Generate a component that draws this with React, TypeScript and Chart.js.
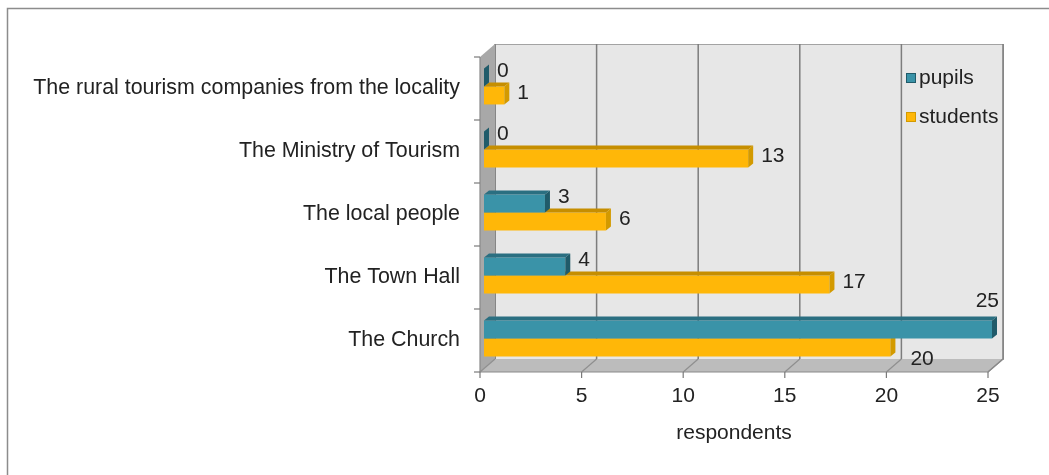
import React, { useEffect, useRef } from "react";
import { Chart, registerables } from "chart.js";

Chart.register(...registerables);

const categories = [
  "The rural tourism companies from the locality",
  "The Ministry of Tourism",
  "The local people",
  "The Town Hall",
  "The Church",
];
const pupils = [0, 0, 3, 4, 25];
const students = [1, 13, 6, 17, 20];
const seriesNames = ["pupils", "students"];
const xTicks = [0, 5, 10, 15, 20, 25];
const axisTitle = "respondents";

const W = 1049;
const H = 475;
const WALL_DX = 15;
const WALL_DY = 13;
const BAR_DX = 5;
const BAR_DY = 4;
const SHIFT_X = 4;
const SHIFT_Y = -2;
const FONT = "'Liberation Sans', Arial, Helvetica, sans-serif";
const TEXT = "#222222";

const palette = [
  { front: "#3a93a8", top: "#2a6f81", side: "#205b6a" },
  { front: "#ffb708", top: "#c68e00", side: "#d39a00" },
];

function poly(ctx: CanvasRenderingContext2D, pts: number[][], fill: string) {
  ctx.beginPath();
  ctx.moveTo(pts[0][0], pts[0][1]);
  for (let i = 1; i < pts.length; i++) ctx.lineTo(pts[i][0], pts[i][1]);
  ctx.closePath();
  ctx.fillStyle = fill;
  ctx.fill();
}

const scenePlugin = {
  id: "scene3d",
  beforeDraw(chart: any) {
    const { ctx, chartArea: a } = chart;
    const xs = chart.scales.x;
    const L = a.left, R = a.right, T = a.top, B = a.bottom;
    ctx.save();
    ctx.fillStyle = "#ffffff";
    ctx.fillRect(0, 0, W, H);
    // outer frame
    ctx.strokeStyle = "#8c8c8c";
    ctx.lineWidth = 1.5;
    ctx.beginPath();
    ctx.moveTo(7.5, H);
    ctx.lineTo(7.5, 8.5);
    ctx.lineTo(W, 8.5);
    ctx.stroke();
    // back wall
    ctx.fillStyle = "#e7e7e7";
    ctx.fillRect(L + WALL_DX, T - WALL_DY, R - L, B - T);
    ctx.strokeStyle = "#a3a3a3";
    ctx.lineWidth = 1;
    ctx.strokeRect(L + WALL_DX + 0.5, T - WALL_DY + 0.5, R - L, B - T);
    // back wall grid lines
    ctx.strokeStyle = "#7d7d7d";
    ctx.lineWidth = 1.5;
    for (const v of xTicks) {
      const x = xs.getPixelForValue(v) + WALL_DX;
      ctx.beginPath();
      ctx.moveTo(x, T - WALL_DY);
      ctx.lineTo(x, B - WALL_DY);
      ctx.stroke();
    }
    // left wall
    poly(ctx, [[L, T], [L + WALL_DX, T - WALL_DY], [L + WALL_DX, B - WALL_DY], [L, B]], "#a8a8a8");
    // floor
    poly(ctx, [[L, B], [R, B], [R + WALL_DX, B - WALL_DY], [L + WALL_DX, B - WALL_DY]], "#bcbcbc");
    ctx.strokeStyle = "#8f8f8f";
    ctx.lineWidth = 1.2;
    for (const v of xTicks) {
      const x = xs.getPixelForValue(v);
      ctx.beginPath();
      ctx.moveTo(x, B);
      ctx.lineTo(x + WALL_DX, B - WALL_DY);
      ctx.stroke();
    }
    // front edges
    ctx.strokeStyle = "#8a8a8a";
    ctx.lineWidth = 1.2;
    ctx.beginPath();
    ctx.moveTo(L, T);
    ctx.lineTo(L, B);
    ctx.lineTo(R, B);
    ctx.lineTo(R + WALL_DX, B - WALL_DY);
    ctx.stroke();
    // x tick marks
    ctx.strokeStyle = "#7a7a7a";
    for (const v of xTicks) {
      const x = xs.getPixelForValue(v);
      ctx.beginPath();
      ctx.moveTo(x, B);
      ctx.lineTo(x, B + 6);
      ctx.stroke();
    }
    // y tick marks at category boundaries
    const n = categories.length;
    for (let i = 0; i <= n; i++) {
      const y = T + ((B - T) * i) / n;
      ctx.beginPath();
      ctx.moveTo(L - 6, y);
      ctx.lineTo(L, y);
      ctx.stroke();
    }
    ctx.restore();
  },
  beforeDatasetDraw(chart: any) {
    chart.ctx.save();
    chart.ctx.translate(SHIFT_X, SHIFT_Y);
  },
  afterDatasetDraw(chart: any, args: any) {
    const ctx = chart.ctx;
    const c = palette[args.index];
    for (const el of args.meta.data) {
      const { x, y, base, height } = el.getProps(["x", "y", "base", "height"], true);
      const t = y - height / 2;
      const b = y + height / 2;
      poly(ctx, [[base, t], [x, t], [x + BAR_DX, t - BAR_DY], [base + BAR_DX, t - BAR_DY]], c.top);
      poly(ctx, [[x, t], [x + BAR_DX, t - BAR_DY], [x + BAR_DX, b - BAR_DY], [x, b]], c.side);
    }
    ctx.restore();
  },
  afterDatasetsDraw(chart: any) {
    const ctx = chart.ctx;
    const a = chart.chartArea;
    ctx.save();
    ctx.font = `21px ${FONT}`;
    ctx.fillStyle = TEXT;
    ctx.textBaseline = "middle";
    chart.data.datasets.forEach((ds: any, di: number) => {
      const meta = chart.getDatasetMeta(di);
      meta.data.forEach((el: any, j: number) => {
        const { x, y, height } = el.getProps(["x", "y", "height"], true);
        const ex = x + SHIFT_X;
        const cy = y + SHIFT_Y;
        const txt = String(ds.data[j]);
        const tw = ctx.measureText(txt).width;
        let lx = ex + BAR_DX + 8;
        let ly = di === 0 ? cy - 6 : cy - 2;
        ctx.textAlign = "left";
        if (lx + tw > a.right + WALL_DX) {
          ctx.textAlign = "right";
          lx = ex + BAR_DX + 2;
          ly = cy - height / 2 - BAR_DY - 15;
        } else {
          const otherIdx = di === 0 ? 1 : 0;
          const other = chart.getDatasetMeta(otherIdx).data[j];
          if (di === 1 && other && other.x + SHIFT_X + BAR_DX > lx) {
            lx += 7;
            ly = cy + 12;
          }
        }
        ctx.fillText(txt, lx, ly);
      });
    });
    ctx.restore();
  },
  afterDraw(chart: any) {
    const ctx = chart.ctx;
    ctx.save();
    ctx.font = `21px ${FONT}`;
    ctx.textBaseline = "middle";
    ctx.textAlign = "left";
    const x0 = 906;
    const ys = [78, 117];
    chart.data.datasets.forEach((ds: any, i: number) => {
      const y = ys[i];
      ctx.fillStyle = palette[i].front;
      ctx.fillRect(x0, y - 5, 10, 10);
      ctx.strokeStyle = palette[i].side;
      ctx.lineWidth = 1;
      ctx.strokeRect(x0 + 0.5, y - 4.5, 9, 9);
      ctx.fillStyle = TEXT;
      ctx.fillText(ds.label, x0 + 13, y);
    });
    ctx.restore();
  },
};

export default function App() {
  const ref = useRef<HTMLCanvasElement | null>(null);
  useEffect(() => {
    if (!ref.current) return;
    const chart = new Chart(ref.current, {
      type: "bar",
      data: {
        labels: categories,
        datasets: [
          { label: seriesNames[0], data: pupils, backgroundColor: palette[0].front, borderWidth: 0, clip: false as any },
          { label: seriesNames[1], data: students, backgroundColor: palette[1].front, borderWidth: 0, clip: false as any },
        ],
      },
      options: {
        indexAxis: "y",
        responsive: false,
        animation: false,
        events: [],
        layout: { padding: { top: 57, right: 61, left: 0, bottom: 0 } },
        datasets: { bar: { categoryPercentage: 0.57, barPercentage: 1 } },
        plugins: { legend: { display: false }, tooltip: { enabled: false } },
        scales: {
          x: {
            type: "linear",
            min: 0,
            max: 25,
            grid: { display: false, drawTicks: false },
            border: { display: false },
            ticks: { stepSize: 5, padding: 12, color: TEXT, font: { family: FONT, size: 21 } },
            title: { display: true, text: axisTitle, color: TEXT, font: { family: FONT, size: 21 }, padding: { top: 0, bottom: 29 } },
            afterFit: (s: any) => { s.height = 103; },
          },
          y: {
            type: "category",
            grid: { display: false, drawTicks: false },
            border: { display: false },
            ticks: { padding: 20, color: TEXT, font: { family: FONT, size: 21.4 } },
            afterFit: (s: any) => { s.width = 480; },
          },
        },
      } as any,
      plugins: [scenePlugin],
    });
    return () => chart.destroy();
  }, []);
  return (
    <canvas
      ref={ref}
      width={W}
      height={H}
      style={{ position: "fixed", left: 0, top: 0, width: W, height: H, display: "block" }}
    />
  );
}
